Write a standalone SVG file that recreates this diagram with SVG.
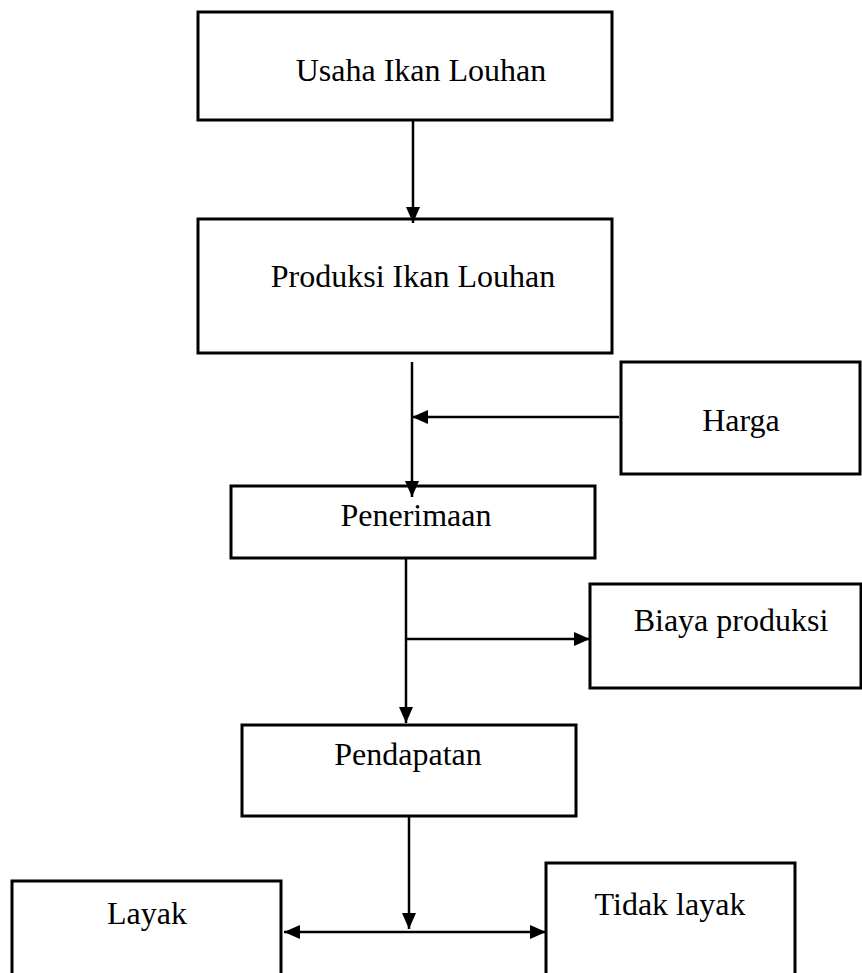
<svg xmlns="http://www.w3.org/2000/svg" width="862" height="973" viewBox="0 0 862 973">
<style>
.box{fill:#fff;stroke:#000;stroke-width:3}
.lbl{font-family:"Liberation Serif","Times New Roman",serif;font-size:32px;fill:#000;text-anchor:middle}
.con{fill:none;stroke:#000;stroke-width:2.5}
</style>
<defs>
<marker id="ah" viewBox="0 0 16 14" refX="16" refY="7" markerWidth="16" markerHeight="14" markerUnits="userSpaceOnUse" orient="auto-start-reverse">
<path d="M0,0 L16,7 L0,14 z" fill="#000"/>
</marker>
</defs>
<rect width="862" height="973" fill="#fff"/>
<g id="usaha"><rect class="box" x="198" y="12" width="414" height="108"/><text class="lbl" x="421" y="81">Usaha Ikan Louhan</text></g>
<g id="produksi"><rect class="box" x="198" y="219" width="414" height="134"/><text class="lbl" x="413" y="287">Produksi Ikan Louhan</text></g>
<g id="harga"><rect class="box" x="621" y="362" width="239" height="112"/><text class="lbl" x="741" y="431">Harga</text></g>
<g id="penerimaan"><rect class="box" x="231" y="486" width="364" height="72"/><text class="lbl" x="416" y="526">Penerimaan</text></g>
<g id="biaya"><rect class="box" x="590" y="584" width="271" height="104"/><text class="lbl" x="731" y="631">Biaya produksi</text></g>
<g id="pendapatan"><rect class="box" x="242" y="725" width="334" height="91"/><text class="lbl" x="408" y="765">Pendapatan</text></g>
<g id="layak"><rect class="box" x="12" y="881" width="269" height="120"/><text class="lbl" x="147" y="924">Layak</text></g>
<g id="tidaklayak"><rect class="box" x="546" y="863" width="249" height="140"/><text class="lbl" x="670" y="915">Tidak layak</text></g>
<g id="connectors">
<path class="con" d="M413,120 V223" marker-end="url(#ah)"/>
<path class="con" d="M412,362 V497" marker-end="url(#ah)"/>
<path class="con" d="M619,417 H412" marker-end="url(#ah)"/>
<path class="con" d="M406,559 V723" marker-end="url(#ah)"/>
<path class="con" d="M406,639 H590" marker-end="url(#ah)"/>
<path class="con" d="M409,816 V929" marker-end="url(#ah)"/>
<path class="con" d="M284,932 H546" marker-start="url(#ah)" marker-end="url(#ah)"/>
</g>
</svg>
